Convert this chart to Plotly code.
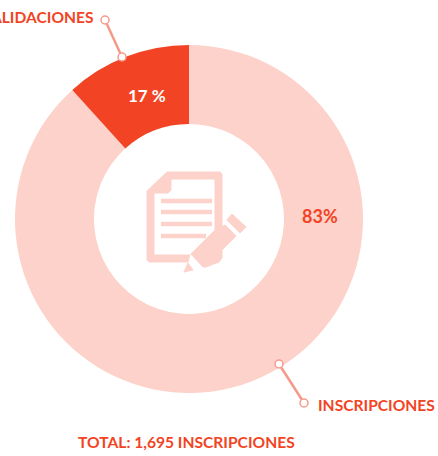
import plotly.graph_objects as go

categories = ["INSCRIPCIONES", "VALIDACIONES"]
values = [88.3, 11.7]
pct_labels = ["83%", "17 %"]
total_label = "TOTAL: 1,695 INSCRIPCIONES"

W, H = 438, 456
RED = "#F24424"
PINK = "#FDD2CA"
LINE = "#F59A8A"


def X(p):
    return p / W


def Y(p):
    return 1 - p / H


def path(points, close=True):
    s = "M " + " L ".join(f"{X(a):.5f},{Y(b):.5f}" for a, b in points)
    return s + (" Z" if close else "")


def poly(points, color):
    return dict(type="path", xref="paper", yref="paper", path=path(points),
                fillcolor=color, line=dict(color=color, width=1), layer="above")


def bar(x0, x1, y):
    return dict(type="line", xref="paper", yref="paper", x0=X(x0), x1=X(x1), y0=Y(y), y1=Y(y),
                line=dict(color=PINK, width=4.5), layer="above")


def dot(cx, cy, r=4):
    return dict(type="circle", xref="paper", yref="paper", x0=X(cx - r), x1=X(cx + r),
                y0=Y(cy + r), y1=Y(cy - r), fillcolor="white",
                line=dict(color=LINE, width=1.5), layer="above")


def leader(x0, y0, x1, y1):
    return dict(type="line", xref="paper", yref="paper", x0=X(x0), x1=X(x1), y0=Y(y0), y1=Y(y1),
                line=dict(color=LINE, width=2.5), layer="above")


shapes = [
    # document
    poly([(167, 172), (220, 172), (222, 174), (222, 228), (190, 254), (188, 262), (149, 262), (147, 260), (147, 191)], PINK),
    poly([(172, 180), (214, 180), (214, 232), (192, 254), (155, 254), (155, 194), (168, 194), (172, 190)], "white"),
    bar(161, 212, 201), bar(161, 212, 212), bar(161, 212, 224), bar(161, 206, 236),
    # pencil
    poly([(191, 254), (213, 232), (225, 225), (236, 236), (222, 250), (222, 258), (219, 262), (206, 267), (203, 267)], PINK),
    poly([(227, 220), (232, 214), (246, 227), (240, 233)], PINK),
    poly([(184, 272), (188, 263), (193, 270)], PINK),
    # leaders
    leader(105, 20, 122, 57),
    leader(279, 364, 304, 403),
    dot(105, 20), dot(122, 57), dot(279, 364), dot(304, 403),
]

fig = go.Figure(go.Pie(
    labels=categories,
    values=values,
    textinfo="none",
    marker=dict(colors=[PINK, RED], line=dict(width=0)),
    hole=0.546,
    sort=False,
    direction="clockwise",
    rotation=0,
    domain=dict(x=[X(15), X(363)], y=[Y(393), Y(45)]),
    showlegend=False,
))

label_font = dict(family="Lato", size=15.6, color=RED, weight="bold")
pct_font = dict(family="Lato", size=18, weight="bold")


def note(text, x, y, anchor, font):
    return dict(text=text, xref="paper", yref="paper", x=X(x), y=Y(y), xanchor=anchor,
                yanchor="middle", showarrow=False, font=font)


fig.update_layout(
    width=W, height=H,
    margin=dict(l=0, r=0, t=0, b=0),
    paper_bgcolor="white",
    shapes=shapes,
    annotations=[
        note(categories[1], 96, 17, "right", label_font),
        note(categories[0], 316, 405, "left", label_font),
        note(total_label, 76, 442, "left", label_font),
        note(pct_labels[0], 320, 216, "center", dict(pct_font, color=RED)),
        note(pct_labels[1], 147, 95, "center", dict(pct_font, size=17, color="white")),
    ],
)
fig.write_html("out.html", config={"displayModeBar": False},
               post_script="document.body.style.margin='0';document.body.style.overflow='hidden';")
